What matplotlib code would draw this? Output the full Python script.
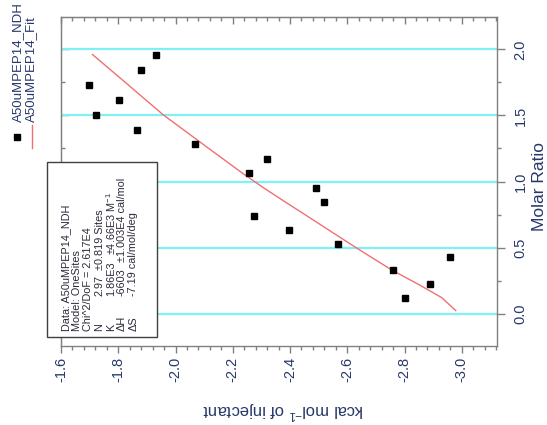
import matplotlib
matplotlib.use("Agg")
import matplotlib.pyplot as plt
from matplotlib.ticker import MultipleLocator, NullFormatter, FormatStrFormatter
from matplotlib.lines import Line2D
from matplotlib.patches import Rectangle

plt.rcParams['font.family'] = ['Liberation Sans', 'DejaVu Sans']
plt.rcParams['mathtext.fontset'] = 'custom'
plt.rcParams['mathtext.rm'] = 'Liberation Sans'
plt.rcParams['mathtext.it'] = 'Liberation Sans:italic'

# ------------------------------
# DATA
# ------------------------------
molar_ratio = [0.121, 0.221, 0.327, 0.428, 0.528, 0.636, 0.737, 0.847, 0.953,
               1.061, 1.174, 1.282, 1.393, 1.503, 1.616, 1.729, 1.845, 1.961]
heat = [-2.800, -2.888, -2.758, -2.958, -2.566, -2.398, -2.274, -2.519, -2.492,
        -2.255, -2.319, -2.067, -1.867, -1.724, -1.801, -1.699, -1.881, -1.933]

fit_ratio = [0.023, 0.121, 0.221, 0.327, 0.428, 0.528, 0.636, 0.737, 0.847, 0.953,
             1.061, 1.174, 1.282, 1.393, 1.503, 1.616, 1.729, 1.845, 1.961]
fit_heat = [-2.979, -2.930, -2.849, -2.758, -2.683, -2.610, -2.533, -2.461, -2.382,
            -2.307, -2.235, -2.164, -2.096, -2.027, -1.958, -1.897, -1.836, -1.773, -1.710]

series_names = ["A50uMPEP14_NDH", "A50uMPEP14_Fit"]
header_lines = ["Data: A50uMPEP14_NDH", "Model: OneSites", "Chi^2/DoF = 2.617E4"]
fit_labels = ["N", "K", "\u0394H", "\u0394S"]
fit_values = ["2.97", "1.86E3", "-6603", "-7.19 cal/mol/deg"]
fit_errors = ["\u00b10.819 Sites", "\u00b14.66E3 M$^{-1}$", "\u00b11.003E4 cal/mol", ""]

# ------------------------------
# STYLE
# ------------------------------
W, H = 547, 425
gray = '#808080'
navy = '#27386a'
cyan = '#7ef0f6'
red = '#f07070'
box_text = '#2a2a3a'


def fp(x, y):
    # pixel (from top-left) -> figure fraction
    return x / W, 1 - y / H


fig = plt.figure(figsize=(W / 100, H / 100), dpi=100)
ax = fig.add_axes([61 / W, 1 - 346 / H, (497 - 61) / W, (346 - 17) / H])

ax.plot(fit_heat, fit_ratio, color=red, lw=1.0, zorder=2)
ax.plot(heat, molar_ratio, ls='none', marker='s', ms=4.6, color='black', zorder=3)

ax.set_xlim(-1.6, -3.123)
ax.set_ylim(-0.245, 2.245)

ax.xaxis.set_major_locator(MultipleLocator(0.2))
ax.xaxis.set_minor_locator(MultipleLocator(0.04))
ax.yaxis.set_major_locator(MultipleLocator(0.5))
ax.yaxis.set_minor_locator(MultipleLocator(0.25))
ax.yaxis.tick_right()
ax.yaxis.grid(True, which='major', color=cyan, lw=1.6)
ax.set_axisbelow(True)

for s in ax.spines.values():
    s.set_color(gray)
    s.set_linewidth(1.0)

ax.tick_params(axis='x', which='major', direction='out', length=5, width=1,
               color=gray, labelcolor=navy, labelsize=10.5, labelrotation=90, pad=3)
ax.tick_params(axis='x', which='minor', direction='out', length=3, width=1, color=gray)
ax.tick_params(axis='y', which='major', direction='out', length=6, width=1,
               color=gray, labelcolor=navy, labelsize=10.5, labelrotation=90, pad=6)
ax.tick_params(axis='y', which='minor', direction='out', length=3, width=1, color=gray)
for lab in ax.get_yticklabels():
    lab.set_verticalalignment('center')
ax.xaxis.set_major_formatter(FormatStrFormatter('%.1f'))
ax.yaxis.set_major_formatter(FormatStrFormatter('%.1f'))

# mirrored ticks (inside) on top and left
top = ax.secondary_xaxis('top')
top.xaxis.set_major_locator(MultipleLocator(0.2))
top.xaxis.set_minor_locator(MultipleLocator(0.04))
top.xaxis.set_major_formatter(NullFormatter())
top.tick_params(which='major', direction='in', length=5, width=1, color=gray)
top.tick_params(which='minor', direction='in', length=3, width=1, color=gray)
top.spines['top'].set_color(gray)

left = ax.secondary_yaxis('left')
left.yaxis.set_major_locator(MultipleLocator(0.5))
left.yaxis.set_minor_locator(MultipleLocator(0.25))
left.yaxis.set_major_formatter(NullFormatter())
left.tick_params(which='major', direction='in', length=6, width=1, color=gray)
left.tick_params(which='minor', direction='in', length=3, width=1, color=gray)
left.spines['left'].set_color(gray)

# axis titles (the whole chart is turned on its side)
fig.text(*fp(283, 410), "kcal mol$^{-1}$ of injectant", rotation=180,
         ha='center', va='center', fontsize=12, color=navy)
fig.text(*fp(540, 187), "Molar Ratio", rotation=90,
         ha='center', va='center', fontsize=12.5, color=navy)

# legend
fig.add_artist(Line2D([17 / W], [1 - 137 / H], marker='s', ms=4.6, color='black',
                      ls='none', transform=fig.transFigure))
fig.text(*fp(18, 122), series_names[0], rotation=90, ha='center', va='bottom',
         fontsize=9.5, color=navy)
fig.add_artist(Line2D([31.5 / W, 31.5 / W], [1 - 125 / H, 1 - 148 / H], color=red,
                      lw=1.0, transform=fig.transFigure))
fig.text(*fp(31.5, 122), series_names[1], rotation=90, ha='center', va='bottom',
         fontsize=9.5, color=navy)

# fit result box
fig.add_artist(Rectangle(fp(47, 337), 110 / W, 175 / H, transform=fig.transFigure,
                         facecolor='white', edgecolor='#404040', lw=1.0, zorder=5))
fs = 7.8
col_x = 66
step = 11.2
for line in header_lines:
    fig.text(*fp(col_x, 331), line, rotation=90, ha='center', va='bottom',
             fontsize=fs, color=box_text, zorder=6)
    col_x += step
err_start = {"N": 270, "K": 255, "\u0394H": 262}
for lab, val, err in zip(fit_labels, fit_values, fit_errors):
    fig.text(*fp(col_x, 331), lab, rotation=90, ha='center', va='bottom',
             fontsize=fs, color=box_text, zorder=6)
    fig.text(*fp(col_x, 296), val, rotation=90, ha='center', va='bottom',
             fontsize=fs, color=box_text, zorder=6)
    if err:
        fig.text(*fp(col_x, err_start[lab]), err, rotation=90, ha='center',
                 va='bottom', fontsize=fs, color=box_text, zorder=6)
    col_x += step

fig.savefig("out.png", dpi=100)
